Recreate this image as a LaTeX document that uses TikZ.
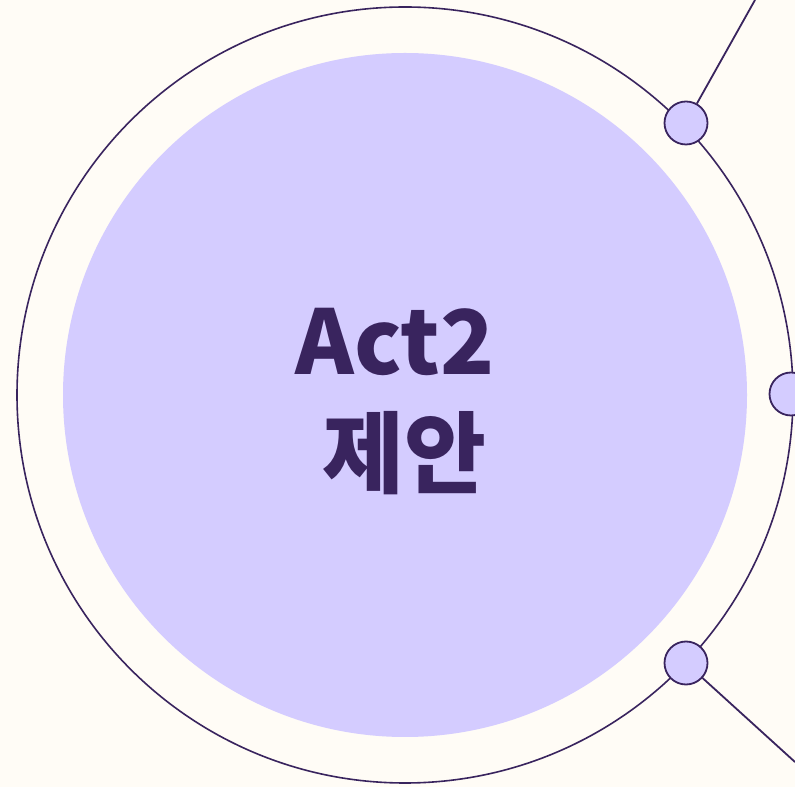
\documentclass[tikz,border=0pt]{standalone}
\usepackage{fontspec}
\newfontfamily\krfont{Noto Sans CJK KR}
\usetikzlibrary{positioning}
\definecolor{cream}{HTML}{FFFCF6}
\definecolor{ink}{HTML}{39245E}
\definecolor{lavender}{HTML}{D4CCFF}

\begin{document}
\begin{tikzpicture}[x=1pt, y=1pt, dot/.style={circle, draw=ink, fill=lavender, line width=1.8pt, minimum size=43pt, inner sep=0pt}]
    \useasboundingbox (0,0) rectangle (795,787);
    \fill[cream] (0,0) rectangle (795,787);

    \node[circle, draw=ink, line width=1.6pt, minimum size=776pt, inner sep=0pt] (ring) at (405,392) {};
    \node[circle, fill=lavender, minimum size=684pt, inner sep=0pt] (core) at (405,392) {};

    \node[dot] (d1) at (686,664) {};
    \node[dot] (d2) at (791,393) {};
    \node[dot] (d3) at (686,124) {};

    \coordinate (top) at (755,787);
    \coordinate (low) at (795,25);
    \draw[ink, line width=1.8pt] (d1) -- (top);
    \draw[ink, line width=1.8pt] (d3) -- (low);

    \node[font=\krfont\bfseries\fontsize{89}{112}\selectfont, text=ink, align=center] (title) at (395,385) {Act2\\\hspace*{18pt}제안};
\end{tikzpicture}
\end{document}
